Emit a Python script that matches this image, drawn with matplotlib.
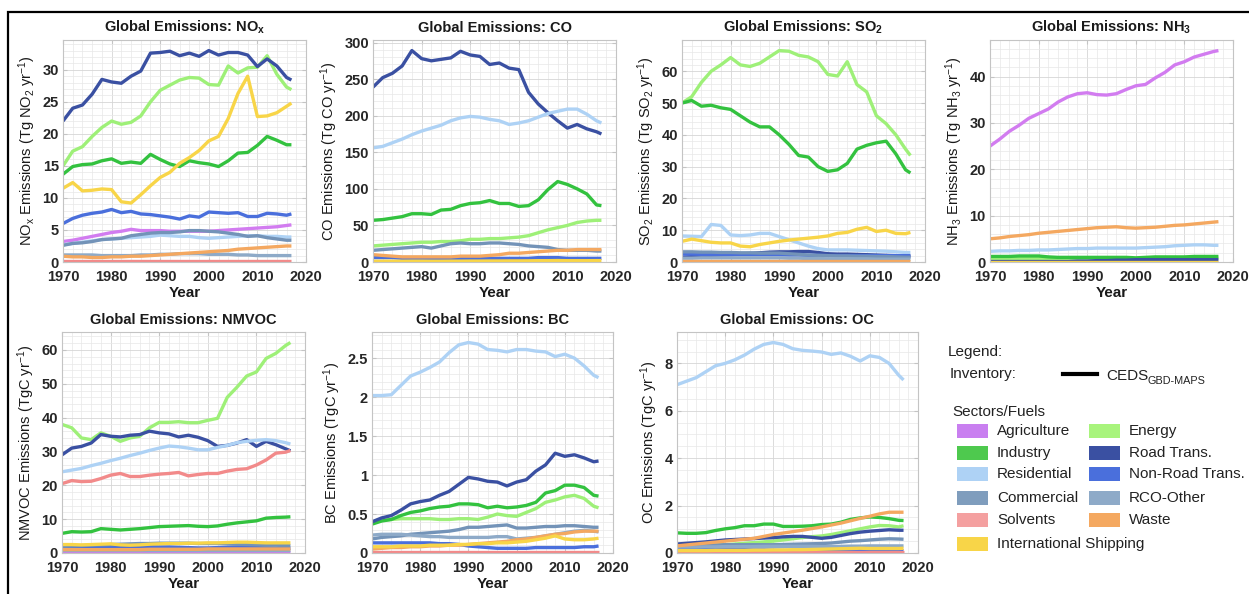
"""Global emissions by sector, 1970-2017 (CEDS GBD-MAPS) - seven species panels + legend."""

import matplotlib

matplotlib.use("Agg")
import matplotlib.pyplot as plt  # noqa: E402
from matplotlib.patches import Rectangle  # noqa: E402
from matplotlib.lines import Line2D  # noqa: E402
from matplotlib.ticker import MultipleLocator, AutoMinorLocator, FuncFormatter  # noqa: E402

W, H = 1249, 594

# ---------------------------------------------------------------- data
YEARS = [1970, 1972, 1974, 1976, 1978, 1980, 1982, 1984, 1986, 1988, 1990, 1992,
         1994, 1996, 1998, 2000, 2002, 2004, 2006, 2008, 2010, 2012, 2014, 2016, 2017]

# NOx (Tg NO2 / yr)
NOX_AGR = [3.2, 3.4, 3.7, 4.0, 4.3, 4.6, 4.8, 5.1, 4.9, 4.9, 4.9, 4.8, 4.8, 4.8, 4.8, 4.8, 4.9, 5.0, 5.1, 5.2, 5.3, 5.4, 5.5, 5.7, 5.8]
NOX_ENE = [15.0, 17.3, 18.0, 19.6, 21.0, 22.0, 21.5, 21.8, 22.8, 25.0, 26.8, 27.6, 28.4, 28.8, 28.7, 27.7, 27.6, 30.6, 29.5, 30.3, 30.4, 32.2, 29.3, 27.3, 26.9]
NOX_IND = [13.7, 14.9, 15.2, 15.3, 15.8, 16.1, 15.4, 15.6, 15.4, 16.8, 16.0, 15.3, 14.9, 15.8, 15.5, 15.3, 14.9, 15.8, 17.0, 17.1, 18.2, 19.6, 19.0, 18.3, 18.3]
NOX_ROAD = [22.0, 24.0, 24.5, 26.2, 28.5, 28.1, 27.9, 29.0, 29.8, 32.6, 32.7, 32.9, 32.2, 32.6, 32.1, 33.0, 32.3, 32.7, 32.7, 32.3, 30.5, 31.7, 30.6, 28.8, 28.4]
NOX_RES = [2.7, 2.9, 3.1, 3.3, 3.5, 3.6, 3.7, 3.8, 3.9, 4.0, 4.2, 4.1, 4.0, 4.0, 3.8, 3.7, 3.8, 3.9, 4.0, 4.1, 4.1, 4.0, 4.0, 3.9, 3.9]
NOX_NRD = [6.0, 6.8, 7.3, 7.6, 7.8, 8.2, 7.7, 7.9, 7.5, 7.4, 7.2, 7.0, 6.7, 7.2, 7.0, 7.8, 7.7, 7.6, 7.7, 7.1, 7.1, 7.6, 7.5, 7.3, 7.5]
NOX_COM = [2.6, 2.9, 3.0, 3.2, 3.5, 3.6, 3.7, 4.1, 4.3, 4.5, 4.6, 4.6, 4.7, 4.9, 4.9, 4.8, 4.7, 4.5, 4.3, 4.0, 4.1, 3.8, 3.6, 3.4, 3.4]
NOX_RCO = [1.1, 1.1, 1.1, 1.1, 1.0, 1.0, 1.0, 1.0, 1.1, 1.1, 1.2, 1.2, 1.3, 1.3, 1.3, 1.2, 1.2, 1.2, 1.1, 1.1, 1.0, 1.0, 1.0, 1.0, 1.0]
NOX_SOL = [0.1, 0.1, 0.1, 0.1, 0.1, 0.1, 0.1, 0.1, 0.1, 0.1, 0.1, 0.1, 0.1, 0.1, 0.1, 0.1, 0.1, 0.1, 0.1, 0.1, 0.1, 0.1, 0.1, 0.1, 0.1]
NOX_WST = [0.9, 0.8, 0.8, 0.7, 0.7, 0.8, 0.8, 0.9, 0.9, 1.0, 1.1, 1.2, 1.3, 1.4, 1.5, 1.6, 1.7, 1.8, 2.0, 2.1, 2.2, 2.3, 2.4, 2.5, 2.5]
NOX_SHP = [11.5, 12.4, 11.1, 11.2, 11.4, 11.3, 9.4, 9.2, 10.5, 11.9, 13.2, 14.0, 15.4, 16.3, 17.4, 18.9, 19.6, 22.4, 26.3, 29.0, 22.7, 22.8, 23.3, 24.3, 24.8]

# CO (Tg CO / yr)
CO_ENE = [22, 23, 24, 25, 26, 27, 27, 28, 28, 29, 31, 31, 32, 32, 33, 34, 36, 40, 44, 47, 50, 54, 56, 57, 57]
CO_IND = [57, 58, 60, 62, 66, 66, 65, 71, 72, 77, 80, 81, 84, 80, 80, 76, 77, 85, 99, 110, 106, 100, 93, 78, 77]
CO_ROAD = [239, 252, 258, 268, 289, 278, 275, 277, 279, 288, 283, 281, 270, 272, 265, 263, 232, 216, 204, 193, 183, 188, 182, 178, 175]
CO_RES = [156, 158, 163, 168, 174, 179, 183, 187, 193, 197, 199, 198, 195, 193, 188, 190, 193, 198, 203, 206, 209, 209, 202, 193, 190]
CO_NRD = [6, 6, 6, 5, 5, 5, 5, 5, 5, 5, 5, 5, 5, 5, 5, 5, 5, 6, 6, 6, 5, 5, 5, 5, 5]
CO_COM = [16, 17, 18, 19, 20, 21, 19, 22, 25, 26, 25, 25, 26, 26, 25, 24, 22, 21, 20, 17, 16, 16, 16, 15, 15]
CO_WST = [10, 9, 8, 7, 7, 7, 7, 7, 7, 8, 8, 8, 9, 10, 12, 12, 13, 14, 15, 16, 16, 17, 17, 17, 17]
CO_SHP = [1.0, 1.1, 1.1, 1.1, 1.2, 1.2, 1.1, 1.1, 1.2, 1.2, 1.3, 1.3, 1.4, 1.4, 1.5, 1.5, 1.6, 1.7, 1.8, 2.0, 1.8, 1.8, 1.8, 1.9, 1.9]

# SO2 (Tg SO2 / yr)
SO2_ENE = [50.0, 52.0, 56.5, 60.0, 62.0, 64.3, 62.0, 61.5, 62.5, 64.5, 66.5, 66.3, 65.0, 64.5, 63.0, 59.0, 58.5, 63.0, 55.8, 53.5, 46.0, 43.5, 40.0, 35.5, 33.5]
SO2_IND = [50.0, 50.8, 49.0, 49.3, 48.5, 48.0, 46.0, 44.0, 42.5, 42.5, 40.0, 37.0, 33.5, 33.0, 30.0, 28.5, 29.0, 31.0, 35.5, 36.7, 37.5, 38.0, 34.0, 29.0, 28.0]
SO2_ROAD = [1.5, 1.7, 1.9, 2.1, 2.2, 2.3, 2.5, 2.7, 2.9, 3.1, 3.2, 3.2, 3.3, 3.3, 3.0, 2.6, 2.5, 2.5, 2.4, 2.3, 2.2, 2.1, 2.0, 1.9, 1.8]
SO2_RES = [8.2, 8.1, 8.0, 11.8, 11.5, 8.5, 8.3, 8.5, 9.0, 9.0, 8.0, 7.0, 6.0, 5.0, 4.2, 3.8, 3.8, 3.8, 3.7, 3.6, 3.5, 3.4, 3.2, 3.0, 3.0]
SO2_NRD = [2.5, 2.5, 2.4, 2.4, 2.4, 2.3, 2.3, 2.3, 2.3, 2.3, 2.3, 2.2, 2.2, 2.1, 2.1, 2.0, 2.0, 2.0, 2.0, 2.0, 2.0, 2.0, 2.0, 2.0, 2.0]
SO2_COM = [3.2, 3.2, 3.1, 3.1, 3.0, 3.0, 2.9, 2.9, 2.8, 2.8, 2.8, 2.6, 2.4, 2.2, 2.1, 2.0, 1.9, 1.9, 1.8, 1.8, 1.7, 1.7, 1.6, 1.5, 1.5]
SO2_RCO = [1.2, 1.2, 1.3, 1.3, 1.3, 1.3, 1.3, 1.3, 1.3, 1.3, 1.3, 1.2, 1.2, 1.1, 1.1, 1.0, 1.0, 1.0, 1.0, 1.0, 0.9, 0.9, 0.9, 0.9, 0.9]
SO2_WST = [0.3, 0.3, 0.3, 0.3, 0.3, 0.3, 0.3, 0.3, 0.3, 0.3, 0.3, 0.3, 0.3, 0.3, 0.3, 0.3, 0.3, 0.3, 0.3, 0.3, 0.3, 0.3, 0.3, 0.3, 0.3]
SO2_SHP = [6.5, 7.2, 6.7, 6.2, 6.0, 6.0, 5.0, 4.8, 5.5, 6.0, 6.5, 6.9, 7.2, 7.5, 7.8, 8.2, 9.0, 9.3, 10.3, 10.9, 9.6, 10.0, 9.0, 8.9, 9.3]

# NH3 (Tg NH3 / yr)
NH3_AGR = [25.0, 26.5, 28.2, 29.5, 31.0, 32.0, 33.0, 34.5, 35.6, 36.3, 36.5, 36.1, 36.0, 36.3, 37.2, 38.0, 38.3, 39.7, 40.9, 42.5, 43.2, 44.2, 44.8, 45.4, 45.6]
NH3_ENE = [0.7, 0.7, 0.7, 0.7, 0.7, 0.7, 0.7, 0.7, 0.7, 0.7, 0.7, 0.7, 0.7, 0.7, 0.7, 0.7, 0.7, 0.7, 0.8, 0.8, 0.8, 0.8, 0.8, 0.8, 0.8]
NH3_IND = [1.2, 1.2, 1.2, 1.3, 1.3, 1.3, 1.1, 1.0, 1.0, 1.0, 1.0, 1.0, 1.0, 1.0, 1.0, 0.9, 1.0, 1.1, 1.1, 1.1, 1.1, 1.2, 1.2, 1.2, 1.2]
NH3_ROAD = [0.1, 0.1, 0.1, 0.1, 0.1, 0.1, 0.1, 0.1, 0.1, 0.2, 0.2, 0.3, 0.3, 0.4, 0.4, 0.5, 0.5, 0.5, 0.5, 0.5, 0.5, 0.5, 0.5, 0.5, 0.5]
NH3_RES = [2.3, 2.4, 2.4, 2.5, 2.5, 2.6, 2.6, 2.7, 2.8, 2.9, 2.9, 3.0, 3.0, 3.0, 3.0, 3.0, 3.1, 3.2, 3.3, 3.5, 3.6, 3.7, 3.7, 3.6, 3.6]
NH3_WST = [5.0, 5.2, 5.5, 5.7, 5.9, 6.2, 6.4, 6.6, 6.8, 7.0, 7.2, 7.4, 7.5, 7.6, 7.4, 7.3, 7.4, 7.5, 7.7, 7.9, 8.0, 8.2, 8.4, 8.6, 8.7]
NH3_SHP = [0.05, 0.05, 0.05, 0.05, 0.05, 0.05, 0.05, 0.05, 0.05, 0.05, 0.05, 0.05, 0.05, 0.05, 0.05, 0.05, 0.05, 0.05, 0.05, 0.05, 0.05, 0.05, 0.05, 0.05, 0.05]

# NMVOC (TgC / yr)
VOC_AGR = [0.2, 0.2, 0.2, 0.2, 0.2, 0.2, 0.2, 0.2, 0.2, 0.2, 0.2, 0.2, 0.2, 0.2, 0.2, 0.2, 0.2, 0.2, 0.2, 0.2, 0.2, 0.2, 0.2, 0.2, 0.2]
VOC_ENE = [38.0, 37.0, 34.0, 33.5, 35.5, 34.5, 33.0, 34.0, 34.5, 37.0, 38.6, 38.6, 38.8, 38.5, 38.5, 39.2, 39.8, 46.0, 49.0, 52.3, 53.5, 57.5, 59.0, 61.3, 62.2]
VOC_IND = [5.8, 6.3, 6.2, 6.3, 7.2, 7.0, 6.8, 7.0, 7.2, 7.5, 7.8, 7.9, 8.0, 8.1, 7.9, 7.8, 8.0, 8.5, 8.9, 9.2, 9.5, 10.3, 10.5, 10.6, 10.7]
VOC_ROAD = [29.0, 31.0, 31.5, 32.5, 35.0, 34.5, 34.3, 34.8, 35.0, 36.0, 35.5, 35.2, 34.3, 34.8, 34.2, 33.2, 31.5, 31.8, 32.5, 33.5, 31.5, 33.0, 32.0, 30.8, 30.2]
VOC_RES = [24.0, 24.5, 25.0, 25.8, 26.5, 27.3, 28.0, 28.8, 29.5, 30.3, 31.0, 31.6, 31.4, 31.0, 30.5, 30.5, 31.2, 31.8, 32.6, 33.0, 33.3, 33.5, 33.2, 32.6, 32.2]
VOC_NRD = [1.5, 1.6, 1.7, 1.8, 1.8, 1.9, 1.9, 1.9, 1.9, 1.9, 1.8, 1.8, 1.7, 1.6, 1.5, 1.5, 1.6, 1.7, 1.8, 1.7, 1.6, 1.5, 1.4, 1.4, 1.4]
VOC_COM = [2.0, 2.1, 2.2, 2.3, 2.4, 2.5, 2.6, 2.7, 2.8, 2.8, 2.9, 2.9, 2.9, 2.9, 2.8, 2.8, 2.8, 2.7, 2.6, 2.5, 2.4, 2.3, 2.3, 2.2, 2.2]
VOC_RCO = [0.8, 0.8, 0.8, 0.8, 0.8, 0.8, 0.8, 0.8, 0.8, 0.8, 0.8, 0.8, 0.8, 0.8, 0.8, 0.8, 0.8, 0.8, 0.8, 0.8, 0.8, 0.8, 0.8, 0.8, 0.8]
VOC_SOL = [20.5, 21.4, 21.1, 21.2, 22.0, 23.0, 23.5, 22.6, 22.6, 23.0, 23.3, 23.5, 23.8, 22.8, 23.2, 23.5, 23.5, 24.2, 24.7, 24.9, 26.0, 27.5, 29.5, 29.8, 30.3]
VOC_WST = [1.0, 1.0, 1.0, 1.0, 1.0, 1.0, 1.0, 1.0, 1.0, 1.1, 1.1, 1.1, 1.1, 1.1, 1.1, 1.2, 1.2, 1.2, 1.2, 1.2, 1.2, 1.2, 1.2, 1.2, 1.2]
VOC_SHP = [2.5, 2.5, 2.4, 2.5, 2.6, 2.7, 2.4, 2.3, 2.4, 2.6, 2.7, 2.8, 2.8, 2.9, 2.9, 3.0, 3.0, 3.1, 3.2, 3.2, 3.1, 3.0, 3.0, 3.0, 3.0]

# BC (TgC / yr)
BC_ENE = [0.38, 0.42, 0.43, 0.44, 0.44, 0.44, 0.44, 0.43, 0.43, 0.44, 0.44, 0.43, 0.46, 0.50, 0.48, 0.47, 0.52, 0.57, 0.65, 0.68, 0.72, 0.74, 0.70, 0.60, 0.58]
BC_IND = [0.37, 0.41, 0.43, 0.48, 0.52, 0.54, 0.57, 0.59, 0.60, 0.63, 0.63, 0.62, 0.58, 0.60, 0.58, 0.59, 0.61, 0.65, 0.77, 0.80, 0.87, 0.87, 0.84, 0.74, 0.73]
BC_ROAD = [0.40, 0.45, 0.48, 0.55, 0.63, 0.66, 0.68, 0.74, 0.79, 0.88, 0.97, 0.95, 0.92, 0.91, 0.86, 0.91, 0.94, 1.05, 1.13, 1.28, 1.24, 1.26, 1.22, 1.17, 1.18]
BC_RES = [2.02, 2.02, 2.03, 2.15, 2.27, 2.32, 2.38, 2.45, 2.57, 2.67, 2.70, 2.68, 2.61, 2.60, 2.58, 2.61, 2.61, 2.59, 2.58, 2.52, 2.55, 2.50, 2.40, 2.28, 2.25]
BC_NRD = [0.13, 0.13, 0.13, 0.13, 0.13, 0.13, 0.13, 0.12, 0.12, 0.11, 0.09, 0.08, 0.07, 0.06, 0.06, 0.06, 0.06, 0.07, 0.07, 0.07, 0.07, 0.07, 0.08, 0.08, 0.09]
BC_COM = [0.18, 0.20, 0.21, 0.22, 0.24, 0.25, 0.26, 0.27, 0.28, 0.30, 0.33, 0.33, 0.34, 0.35, 0.36, 0.32, 0.32, 0.33, 0.34, 0.34, 0.35, 0.35, 0.34, 0.33, 0.33]
BC_RCO = [0.23, 0.24, 0.24, 0.24, 0.23, 0.22, 0.21, 0.21, 0.20, 0.20, 0.20, 0.20, 0.20, 0.21, 0.21, 0.18, 0.19, 0.20, 0.22, 0.24, 0.26, 0.28, 0.29, 0.28, 0.27]
BC_SOL = [0.01, 0.01, 0.01, 0.01, 0.01, 0.01, 0.01, 0.01, 0.01, 0.01, 0.01, 0.01, 0.01, 0.01, 0.01, 0.01, 0.01, 0.01, 0.01, 0.01, 0.01, 0.01, 0.01, 0.01, 0.01]
BC_WST = [0.05, 0.06, 0.07, 0.07, 0.08, 0.08, 0.09, 0.09, 0.10, 0.10, 0.11, 0.12, 0.13, 0.14, 0.15, 0.17, 0.18, 0.20, 0.22, 0.24, 0.25, 0.27, 0.28, 0.28, 0.28]
BC_SHP = [0.08, 0.08, 0.08, 0.09, 0.09, 0.09, 0.10, 0.10, 0.10, 0.11, 0.11, 0.12, 0.12, 0.13, 0.13, 0.14, 0.15, 0.17, 0.19, 0.22, 0.18, 0.17, 0.17, 0.18, 0.19]

# OC (TgC / yr)
OC_ENE = [0.30, 0.31, 0.32, 0.33, 0.34, 0.35, 0.38, 0.41, 0.44, 0.47, 0.50, 0.55, 0.60, 0.65, 0.69, 0.72, 0.78, 0.86, 0.94, 1.02, 1.10, 1.16, 1.15, 1.10, 1.15]
OC_IND = [0.85, 0.83, 0.83, 0.86, 0.95, 1.02, 1.07, 1.15, 1.15, 1.22, 1.22, 1.12, 1.12, 1.13, 1.15, 1.20, 1.22, 1.30, 1.42, 1.48, 1.52, 1.50, 1.45, 1.38, 1.37]
OC_ROAD = [0.38, 0.41, 0.44, 0.47, 0.51, 0.55, 0.57, 0.59, 0.61, 0.63, 0.65, 0.68, 0.70, 0.70, 0.66, 0.62, 0.66, 0.74, 0.82, 0.88, 0.92, 0.95, 0.98, 0.96, 0.96]
OC_RES = [7.10, 7.25, 7.40, 7.65, 7.90, 8.00, 8.15, 8.35, 8.60, 8.80, 8.88, 8.80, 8.62, 8.55, 8.52, 8.48, 8.38, 8.44, 8.30, 8.10, 8.32, 8.25, 8.00, 7.50, 7.30]
OC_NRD = [0.15, 0.15, 0.15, 0.15, 0.15, 0.15, 0.14, 0.14, 0.13, 0.13, 0.12, 0.11, 0.10, 0.10, 0.10, 0.10, 0.10, 0.10, 0.10, 0.10, 0.10, 0.10, 0.10, 0.10, 0.10]
OC_COM = [0.30, 0.31, 0.32, 0.33, 0.34, 0.35, 0.35, 0.35, 0.35, 0.35, 0.35, 0.36, 0.37, 0.38, 0.39, 0.40, 0.42, 0.46, 0.50, 0.52, 0.55, 0.58, 0.60, 0.59, 0.58]
OC_RCO = [0.25, 0.25, 0.25, 0.26, 0.26, 0.27, 0.27, 0.27, 0.27, 0.28, 0.28, 0.28, 0.28, 0.28, 0.28, 0.27, 0.27, 0.28, 0.29, 0.29, 0.30, 0.30, 0.30, 0.30, 0.30]
OC_SOL = [0.05, 0.05, 0.05, 0.05, 0.05, 0.05, 0.05, 0.05, 0.05, 0.05, 0.05, 0.05, 0.05, 0.05, 0.05, 0.05, 0.05, 0.05, 0.05, 0.05, 0.05, 0.05, 0.05, 0.05, 0.05]
OC_WST = [0.30, 0.34, 0.38, 0.42, 0.46, 0.50, 0.54, 0.58, 0.62, 0.70, 0.78, 0.84, 0.90, 0.96, 1.03, 1.10, 1.18, 1.26, 1.36, 1.46, 1.55, 1.65, 1.72, 1.72, 1.72]
OC_SHP = [0.10, 0.10, 0.10, 0.10, 0.11, 0.11, 0.11, 0.11, 0.12, 0.12, 0.13, 0.13, 0.14, 0.14, 0.15, 0.16, 0.17, 0.18, 0.19, 0.20, 0.19, 0.19, 0.19, 0.19, 0.20]

# ---------------------------------------------------------------- styling
SECTORS = ["Agriculture", "Energy", "Industry", "Road Trans.", "Residential",
           "Non-Road Trans.", "Commercial", "RCO-Other", "Solvents", "Waste",
           "International Shipping"]
COLOR = {
    "Agriculture": "#d27cf0",
    "Energy": "#9ef078",
    "Industry": "#33c23f",
    "Road Trans.": "#3a50a2",
    "Residential": "#aed2f5",
    "Non-Road Trans.": "#4a6fdc",
    "Commercial": "#7393b8",
    "RCO-Other": "#8eaac8",
    "Solvents": "#f4a0a0",
    "Waste": "#f4a860",
    "International Shipping": "#f8d548",
}
LEGEND_COLOR = dict(COLOR, **{"Agriculture": "#c97ff0", "Energy": "#a8f47c",
                              "Industry": "#4ec94e", "Commercial": "#7f9dbd"})
LINE_COLOR = dict(COLOR, **{"Solvents": "#f28a8a"})

KEYS = ["AGR", "ENE", "IND", "ROAD", "RES", "NRD", "COM", "RCO", "SOL", "WST", "SHP"]
SECTOR_OF = dict(zip(KEYS, SECTORS))


def _series(prefix):
    g = globals()
    return {SECTOR_OF[k]: g[f"{prefix}_{k}"] for k in KEYS if f"{prefix}_{k}" in g}


# (prefix, title, ylabel, ytick step, minor subdivisions, pixel box l, t, r, b)
PANELS = [
    ("NOX", r"Global Emissions: NO$_\mathbf{x}$", r"NO$_\mathrm{x}$ Emissions (Tg NO$_2$ yr$^{-1}$)", 5, 5, (63, 40, 306, 262)),
    ("CO", "Global Emissions: CO", r"CO Emissions (Tg CO yr$^{-1}$)", 50, 5, (373, 40, 616, 262)),
    ("SO2", r"Global Emissions: SO$_\mathbf{2}$", r"SO$_2$ Emissions (Tg SO$_2$ yr$^{-1}$)", 10, 5, (682, 40, 925, 262)),
    ("NH3", r"Global Emissions: NH$_\mathbf{3}$", r"NH$_3$ Emissions (Tg NH$_3$ yr$^{-1}$)", 10, 5, (990, 40, 1233, 262)),
    ("VOC", "Global Emissions: NMVOC", r"NMVOC Emissions (TgC yr$^{-1}$)", 10, 5, (62, 332, 305, 553)),
    ("BC", "Global Emissions: BC", r"BC Emissions (TgC yr$^{-1}$)", 0.5, 5, (372, 332, 613, 553)),
    ("OC", "Global Emissions: OC", r"OC Emissions (TgC yr$^{-1}$)", 2, 4, (677, 332, 918, 553)),
]

plt.rcParams.update({
    "font.family": ["Liberation Sans", "DejaVu Sans"],
    "mathtext.fontset": "custom",
    "mathtext.rm": "Liberation Sans",
    "mathtext.it": "Liberation Sans:italic",
    "mathtext.bf": "Liberation Sans:bold",
    "axes.edgecolor": "#c4c4c4",
    "axes.linewidth": 0.8,
    "text.color": "#222222",
})

TICK_COLOR = "#262626"


def px(x, y):
    """Pixel (from top-left) -> figure fraction."""
    return x / W, 1 - y / H


def draw_panel(fig, prefix, title, ylabel, step, nminor, box):
    l, t, r, b = box
    ax = fig.add_axes([l / W, 1 - b / H, (r - l) / W, (b - t) / H])
    series = _series(prefix)
    for sec in SECTORS:
        if sec in series:
            ax.plot(YEARS, series[sec], color=LINE_COLOR[sec], lw=2.4,
                    solid_joinstyle="round", solid_capstyle="butt")
    ymax = 1.05 * max(max(v) for v in series.values())
    ax.set_xlim(1970, 2020)
    ax.set_ylim(0, ymax)
    ax.xaxis.set_major_locator(MultipleLocator(10))
    ax.xaxis.set_minor_locator(AutoMinorLocator(5))
    ax.yaxis.set_major_locator(MultipleLocator(step))
    ax.yaxis.set_minor_locator(AutoMinorLocator(nminor))
    ax.yaxis.set_major_formatter(FuncFormatter(lambda v, p: f"{v:g}"))
    ax.grid(which="major", color="#d6d6d6", lw=0.6)
    ax.grid(which="minor", color="#e8e8e8", lw=0.5)
    ax.set_axisbelow(True)
    ax.tick_params(which="both", direction="in", top=True, right=True,
                   color="#c4c4c4", labelcolor=TICK_COLOR, labelsize=10.5)
    ax.tick_params(which="major", length=3)
    ax.tick_params(which="minor", length=0)
    ax.tick_params(axis="x", pad=6)
    ax.tick_params(axis="y", pad=3)
    plt.setp(ax.get_xticklabels() + ax.get_yticklabels(), fontweight="bold")
    ax.set_title(title, fontsize=10.5, fontweight="bold", pad=6, color="#1a1a1a")
    ax.set_xlabel("Year", fontsize=11, fontweight="bold", labelpad=1, color="#1a1a1a")
    ax.set_ylabel(ylabel, fontsize=10.5, labelpad=3, color="#1a1a1a")
    return ax


def draw_legend(fig):
    fs = 11
    fig.text(*px(948, 352), "Legend:", fontsize=fs, va="center", ha="left")
    fig.text(*px(950, 374), "Inventory:", fontsize=fs, va="center", ha="left")
    x0, y0 = px(1063, 374)
    x1, _ = px(1097, 374)
    fig.add_artist(Line2D([x0, x1], [y0, y0], color="black", lw=3,
                          transform=fig.transFigure))
    fig.text(*px(1106, 376), "CEDS", fontsize=fs, va="center", ha="left")
    fig.text(*px(1148, 381), "GBD-MAPS", fontsize=7.8, va="center", ha="left")
    fig.text(*px(952, 412), "Sectors/Fuels", fontsize=fs, va="center", ha="left")

    rows_y = [431, 453, 474, 498, 520, 544]
    cols_x = [957, 1089]
    for i, sec in enumerate(SECTORS):
        if sec == "International Shipping":
            cx, cy = cols_x[0], rows_y[5]
        else:
            cx, cy = cols_x[i % 2], rows_y[i // 2]
        xl, yb = px(cx, cy + 7)
        fig.add_artist(Rectangle((xl, yb), 31 / W, 14 / H, transform=fig.transFigure,
                                 facecolor=LEGEND_COLOR[sec], edgecolor="none"))
        fig.text(*px(cx + 40, cy), sec, fontsize=fs, va="center", ha="left")


def main():
    fig = plt.figure(figsize=(W / 100, H / 100), dpi=100)
    for prefix, title, ylabel, step, nminor, box in PANELS:
        draw_panel(fig, prefix, title, ylabel, step, nminor, box)
    draw_legend(fig)
    # black frame around the whole composite (right/bottom edges fall off-canvas)
    fx, fy = px(8, 12)
    fig.add_artist(Rectangle((fx, -0.05), 1.2, fy + 0.05, transform=fig.transFigure,
                             fill=False, edgecolor="black", lw=1.6))
    fig.savefig("out.png", dpi=100)
    plt.close(fig)


if __name__ == "__main__":
    main()
